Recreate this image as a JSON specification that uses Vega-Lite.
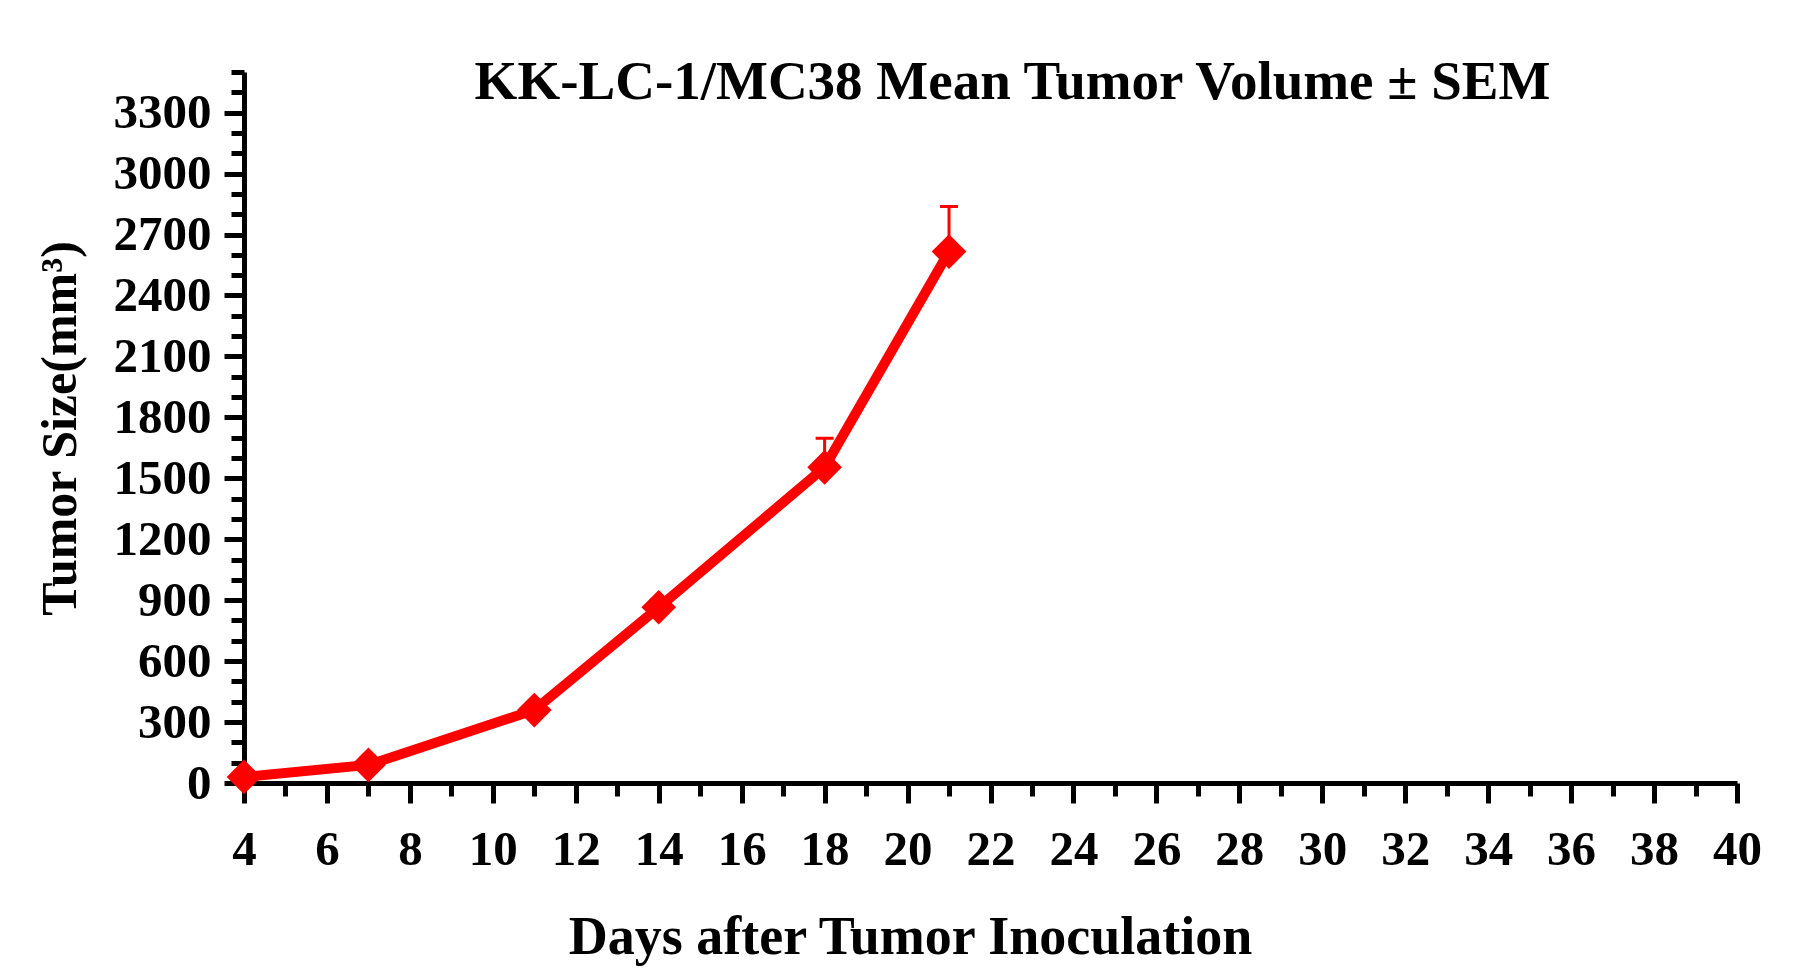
{
  "$schema": "https://vega.github.io/schema/vega-lite/v6.json",
  "description": "KK-LC-1/MC38 mean tumor volume with SEM error bars",
  "autosize": "none",
  "padding": {"left": 244, "top": 72, "right": 65, "bottom": 195},
  "width": 1493,
  "height": 711,
  "background": "white",
  "title": {
    "text": "KK-LC-1/MC38 Mean Tumor Volume ± SEM",
    "font": "Liberation Serif",
    "fontSize": 55,
    "fontWeight": "bold",
    "color": "black",
    "anchor": "middle",
    "frame": "group",
    "baseline": "alphabetic",
    "dx": 22,
    "offset": -84
  },
  "data": {
    "values": [
      {"day": 4, "mean": 30, "upper": 35},
      {"day": 7, "mean": 89, "upper": 100},
      {"day": 11, "mean": 359, "upper": 385},
      {"day": 14, "mean": 865, "upper": 900},
      {"day": 18, "mean": 1554, "upper": 1697},
      {"day": 21, "mean": 2616, "upper": 2838}
    ]
  },
  "layer": [
    {
      "mark": {"type": "line", "color": "#ff0000", "strokeWidth": 10},
      "encoding": {
        "x": {
          "field": "day",
          "type": "quantitative",
          "scale": {"domain": [4, 40], "nice": false, "zero": false},
          "axis": {
            "orient": "bottom",
            "title": "Days after Tumor Inoculation",
            "values": [4, 6, 8, 10, 12, 14, 16, 18, 20, 22, 24, 26, 28, 30, 32, 34, 36, 38, 40],
            "format": "d",
            "grid": false,
            "domainColor": "black",
            "domainWidth": 5,
            "tickColor": "black",
            "tickWidth": 5,
            "tickSize": 20,
            "labelFont": "Liberation Serif",
            "labelFontSize": 49,
            "labelFontWeight": "bold",
            "labelColor": "black",
            "labelBaseline": "alphabetic",
            "labelPadding": 61,
            "labelFlush": false,
            "labelOverlap": false,
            "titleFont": "Liberation Serif",
            "titleFontSize": 54,
            "titleFontWeight": "bold",
            "titleColor": "black",
            "titleAlign": "center",
            "titleBaseline": "alphabetic",
            "titleX": 666,
            "titleY": 170
          }
        },
        "y": {
          "field": "mean",
          "type": "quantitative",
          "scale": {"domain": [0, 3500], "nice": false},
          "axis": {
            "orient": "left",
            "title": "Tumor Size(mm³)",
            "values": [0, 300, 600, 900, 1200, 1500, 1800, 2100, 2400, 2700, 3000, 3300],
            "format": "d",
            "grid": false,
            "domainColor": "black",
            "domainWidth": 5,
            "tickColor": "black",
            "tickWidth": 5,
            "tickSize": 20,
            "labelFont": "Liberation Serif",
            "labelFontSize": 49,
            "labelFontWeight": "bold",
            "labelColor": "black",
            "labelPadding": 13,
            "labelFlush": false,
            "labelOverlap": false,
            "titleFont": "Liberation Serif",
            "titleFontSize": 50,
            "titleFontWeight": "bold",
            "titleColor": "black",
            "titleAngle": -90,
            "titleAlign": "center",
            "titleBaseline": "alphabetic",
            "titleX": -169,
            "titleY": 356
          }
        }
      }
    },
    {
      "mark": {"type": "rule", "color": "#ff0000", "strokeWidth": 3},
      "encoding": {
        "x": {
          "field": "day",
          "type": "quantitative",
          "axis": {
            "orient": "bottom",
            "title": null,
            "values": [5, 7, 9, 11, 13, 15, 17, 19, 21, 23, 25, 27, 29, 31, 33, 35, 37, 39],
            "grid": false,
            "domain": false,
            "labels": false,
            "tickColor": "black",
            "tickWidth": 5,
            "tickSize": 13
          }
        },
        "y": {
          "field": "mean",
          "type": "quantitative",
          "axis": {
            "orient": "left",
            "title": null,
            "values": [100, 200, 400, 500, 700, 800, 1000, 1100, 1300, 1400, 1600, 1700, 1900, 2000, 2200, 2300, 2500, 2600, 2800, 2900, 3100, 3200, 3400, 3500],
            "grid": false,
            "domain": false,
            "labels": false,
            "tickColor": "black",
            "tickWidth": 5,
            "tickSize": 13
          }
        },
        "y2": {"field": "upper"}
      }
    },
    {
      "mark": {"type": "tick", "color": "#ff0000", "orient": "horizontal", "size": 18, "thickness": 3, "opacity": 1},
      "encoding": {
        "x": {"field": "day", "type": "quantitative", "axis": null},
        "y": {"field": "upper", "type": "quantitative", "axis": null}
      }
    },
    {
      "mark": {"type": "point", "shape": "diamond", "filled": true, "size": 1200, "color": "#ff0000", "opacity": 1},
      "encoding": {
        "x": {"field": "day", "type": "quantitative", "axis": null},
        "y": {"field": "mean", "type": "quantitative", "axis": null}
      }
    }
  ],
  "resolve": {"axis": {"x": "independent", "y": "independent"}},
  "config": {"view": {"stroke": null}}
}
